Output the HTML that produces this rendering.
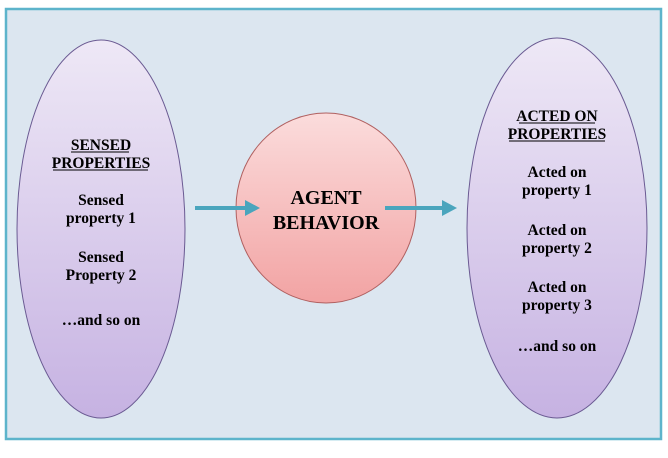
<!DOCTYPE html>
<html><head><style>
body{margin:0;background:#fff;}
svg text{font-family:"Liberation Serif",serif;font-weight:bold;fill:#000;text-anchor:middle;}
</style></head><body>
<svg width="668" height="453" xmlns="http://www.w3.org/2000/svg">
<defs>
<linearGradient id="p" x1="0" y1="0" x2="0" y2="1"><stop offset="0" stop-color="#eee8f6"/><stop offset="1" stop-color="#c6b2e2"/></linearGradient>
<linearGradient id="r" x1="0" y1="0" x2="0" y2="1"><stop offset="0" stop-color="#fbdcdc"/><stop offset="1" stop-color="#f2a3a3"/></linearGradient>
</defs>
<rect x="6" y="9" width="655" height="430" fill="#dce6f0" stroke="#5db4cb" stroke-width="2.5"/>
<ellipse cx="101" cy="229" rx="84" ry="189" fill="url(#p)" stroke="#6a5a92" stroke-width="1"/>
<ellipse cx="557" cy="228" rx="90" ry="190" fill="url(#p)" stroke="#6a5a92" stroke-width="1"/>
<ellipse cx="326" cy="208" rx="90" ry="95" fill="url(#r)" stroke="#b06060" stroke-width="1"/>
<g stroke="#4aa5bd" stroke-width="4" fill="#4aa5bd">
<line x1="195" y1="208" x2="248" y2="208"/><polygon points="245,200 260,208 245,216" stroke="none"/>
<line x1="385" y1="208" x2="445" y2="208"/><polygon points="442,200 457,208 442,216" stroke="none"/>
</g>
<g font-size="15.5">
<text x="101" y="150">SENSED</text>
<text x="101" y="168">PROPERTIES</text>
<line x1="71" y1="152" x2="129" y2="152" stroke="#000"/>
<line x1="53" y1="170" x2="148" y2="170" stroke="#000"/>
<text x="101" y="205">Sensed</text>
<text x="101" y="223">property 1</text>
<text x="101" y="262">Sensed</text>
<text x="101" y="280">Property 2</text>
<text x="101" y="325">…and so on</text>
<text x="557" y="121">ACTED ON</text>
<text x="557" y="139">PROPERTIES</text>
<line x1="519" y1="123" x2="595" y2="123" stroke="#000"/>
<line x1="509" y1="141" x2="605" y2="141" stroke="#000"/>
<text x="557" y="177">Acted on</text>
<text x="557" y="195">property 1</text>
<text x="557" y="235">Acted on</text>
<text x="557" y="253">property 2</text>
<text x="557" y="292">Acted on</text>
<text x="557" y="310">property 3</text>
<text x="557" y="351">…and so on</text>
</g>
<g font-size="20">
<text x="326" y="204">AGENT</text>
<text x="326" y="229">BEHAVIOR</text>
</g>
</svg>
</body></html>
